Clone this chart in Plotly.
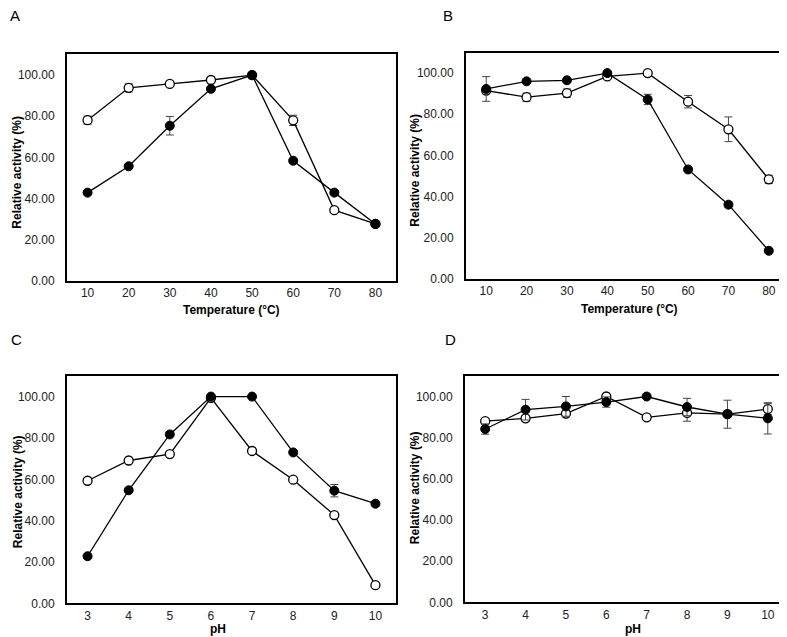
import plotly.graph_objects as go

# ---------------- data ----------------
temp = [10, 20, 30, 40, 50, 60, 70, 80]
ph = [3, 4, 5, 6, 7, 8, 9, 10]

# Panel A (temperature optimum)
a_open = [78.1, 93.8, 95.7, 97.6, 100.0, 78.0, 34.4, 27.7]
a_open_err = [2.0, 2.0, 1.0, 1.0, 0.5, 2.5, 1.0, 1.0]
a_fill = [42.9, 55.7, 75.4, 93.3, 100.0, 58.4, 42.9, 27.7]
a_fill_err = [1.0, 1.0, 4.5, 1.0, 0.5, 1.0, 1.0, 1.0]

# Panel B (temperature stability)
b_open = [91.5, 88.3, 90.3, 98.4, 100.0, 86.1, 72.7, 48.4]
b_open_err = [1.0, 2.0, 2.0, 1.0, 0.5, 3.0, 6.0, 2.0]
b_fill = [92.3, 96.0, 96.5, 100.0, 87.2, 53.2, 36.1, 13.7]
b_fill_err = [6.0, 1.0, 1.0, 0.5, 2.5, 1.0, 1.5, 1.0]

# Panel C (pH optimum)
c_open = [59.3, 69.1, 72.2, 99.4, 73.7, 59.8, 42.7, 8.8]
c_open_err = [1.0, 1.0, 1.0, 1.0, 1.0, 1.0, 1.0, 1.0]
c_fill = [22.8, 54.7, 81.7, 100.0, 100.0, 73.0, 54.5, 48.2]
c_fill_err = [1.0, 1.0, 1.0, 0.5, 0.5, 1.0, 3.0, 1.0]

# Panel D (pH stability)
d_open = [88.0, 89.4, 91.7, 100.0, 89.9, 92.0, 91.4, 93.9]
d_open_err = [1.0, 1.5, 1.0, 1.0, 1.0, 4.0, 1.0, 2.6]
d_fill = [84.2, 93.6, 95.2, 97.3, 100.0, 94.9, 91.4, 89.4]
d_fill_err = [2.5, 5.0, 4.8, 2.5, 0.5, 4.2, 6.8, 7.6]

y_ticks = [0, 20, 40, 60, 80, 100]
y_ticklabels = ["0.00", "20.00", "40.00", "60.00", "80.00", "100.00"]
panel_labels = ["A", "B", "C", "D"]
temp_title = "Temperature (°C)"
ph_title = "pH"
y_title = "Relative activity (%)"

# ---------------- figure ----------------
W, H = 787, 637
FONT = "Liberation Sans, Arial, sans-serif"

fig = go.Figure()

panels = [
    ("x", "y", temp, a_open, a_open_err, a_fill, a_fill_err),
    ("x2", "y2", temp, b_open, b_open_err, b_fill, b_fill_err),
    ("x3", "y3", ph, c_open, c_open_err, c_fill, c_fill_err),
    ("x4", "y4", ph, d_open, d_open_err, d_fill, d_fill_err),
]

for xa, ya, xs, yo, eo, yf, ef in panels:
    fig.add_trace(go.Scatter(
        x=xs, y=yo, xaxis=xa, yaxis=ya, mode="lines+markers",
        line=dict(color="black", width=1.3),
        marker=dict(symbol="circle", size=9, color="white",
                    line=dict(color="black", width=1.3)),
        error_y=dict(type="data", array=eo, visible=True,
                     color="#444444", thickness=1, width=4),
        showlegend=False, cliponaxis=False,
    ))
    fig.add_trace(go.Scatter(
        x=xs, y=yf, xaxis=xa, yaxis=ya, mode="lines+markers",
        line=dict(color="black", width=1.3),
        marker=dict(symbol="circle", size=9, color="black",
                    line=dict(color="black", width=1)),
        error_y=dict(type="data", array=ef, visible=True,
                     color="#444444", thickness=1, width=4),
        showlegend=False, cliponaxis=False,
    ))

# box positions in pixels (left, right, top, bottom)
boxes = [
    (59, 388, 47, 276),
    (458, 781, 45, 274),
    (59, 388, 372, 602),
    (457, 780, 372, 601),
]

axis_common = dict(
    showline=True, mirror=True, linecolor="black", linewidth=2,
    showgrid=False, zeroline=False,
    tickfont=dict(family=FONT, size=12, color="#222222"),
)

for i, (l, r, t, b) in enumerate(boxes):
    sfx = "" if i == 0 else str(i + 1)
    xs = temp if i < 2 else ph
    xr = [5, 85] if i < 2 else [2.5, 10.5]
    fig.layout["xaxis" + sfx] = dict(
        domain=[l / W, r / W], anchor="y" + sfx, range=xr,
        tickvals=xs, ticktext=[str(v) for v in xs], ticks="",
        ticklabelstandoff=0, **axis_common)
    fig.layout["yaxis" + sfx] = dict(
        domain=[1 - b / H, 1 - t / H], anchor="x" + sfx, range=[0, 110],
        tickvals=y_ticks, ticktext=y_ticklabels,
        ticks="outside", ticklen=8, tickcolor="rgba(0,0,0,0)",
        **axis_common)

annots = []
label_pos = [(7, 8), (440, 8), (8, 335), (442, 335)]
for lab, (px, py) in zip(panel_labels, label_pos):
    annots.append(dict(text=lab, x=px / W, y=1 - py / H, xref="paper", yref="paper",
                       showarrow=False, xanchor="center", yanchor="middle",
                       font=dict(family=FONT, size=15, color="black")))

xt_pos = [(223, 305, temp_title), (621, 304, temp_title), (210, 628, ph_title), (625, 628, ph_title)]
for px, py, txt in xt_pos:
    annots.append(dict(text="<b>" + txt + "</b>", x=px / W, y=1 - py / H,
                       xref="paper", yref="paper", showarrow=False,
                       xanchor="center", yanchor="middle",
                       font=dict(family=FONT, size=12, color="black")))

yt_pos = [(9.5, 166), (407.5, 164), (9.5, 489), (406.5, 485)]
for px, py in yt_pos:
    annots.append(dict(text="<b>" + y_title + "</b>", x=px / W, y=1 - py / H,
                       xref="paper", yref="paper", showarrow=False, textangle=-90,
                       xanchor="center", yanchor="middle",
                       font=dict(family=FONT, size=12, color="black")))

fig.update_layout(
    width=W, height=H, margin=dict(l=0, r=0, t=0, b=0),
    paper_bgcolor="white", plot_bgcolor="white",
    annotations=annots, font=dict(family=FONT),
)

fig.write_html("out.html")
